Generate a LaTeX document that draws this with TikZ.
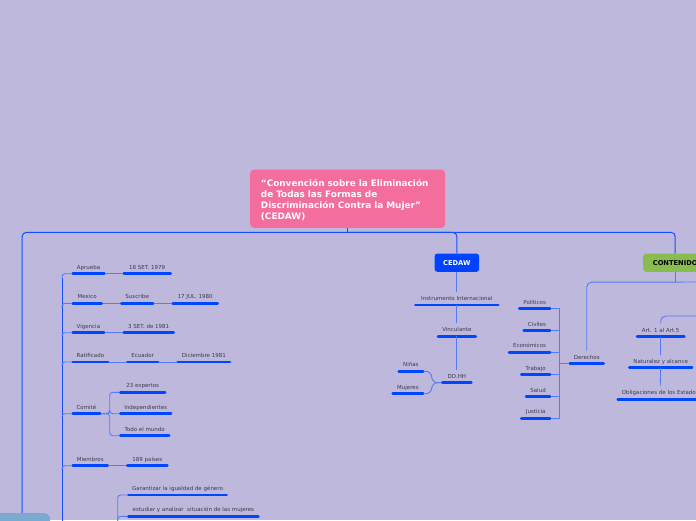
\documentclass[tikz,border=0pt]{standalone}
\usepackage{fontspec}
\setmainfont{DejaVu Sans}
\usetikzlibrary{calc}
\definecolor{bgc}{RGB}{190,185,220}
\definecolor{pinkc}{RGB}{243,109,157}
\definecolor{bluebox}{RGB}{0,66,255}
\definecolor{greenc}{RGB}{136,188,78}
\definecolor{lightbox}{RGB}{123,170,208}
\definecolor{ulc}{RGB}{0,70,255}
\definecolor{trunkc}{RGB}{20,78,255}
\definecolor{connc}{RGB}{84,124,248}
\definecolor{txtc}{RGB}{58,58,74}
\tikzset{
  itm/.style={inner xsep=0pt, inner ysep=4pt, text height=4.2pt, text depth=0.5pt,
    font=\fontsize{5.5}{6.5}\selectfont, text=txtc, align=center},
  uline/.style={draw=ulc, line width=2.6pt, line cap=round, shorten <=1pt, shorten >=1pt},
  trunk/.style={draw=trunkc, line width=1pt},
  conn/.style={draw=connc, line width=0.9pt},
  titlebox/.style={fill=pinkc, rounded corners=4pt, text=white, align=left,
    font=\fontsize{8.9}{11}\selectfont\bfseries, inner xsep=10.7pt, inner ysep=0pt,
    text width=173.6pt, minimum height=58.4pt, anchor=north west},
  hubbox/.style={rounded corners=3pt, minimum height=18.4pt, inner sep=0pt,
    font=\fontsize{6.7}{8}\selectfont\bfseries, anchor=north west}
}
\newcommand\mmitem[5]{%
  \node[itm, minimum width=#3-#2, anchor=south west] (#1) at (#2,#4) {#5};
  \draw[uline] (#1.south west) -- (#1.south east);}
\begin{document}
\begin{tikzpicture}[x=1pt,y=-1pt]
\fill[bgc] (0,0) rectangle (696,520);
\clip (0,0) rectangle (696,520);

% hubs
\node[titlebox] (title) at (250,169.3) {\rule{0pt}{10.5pt}“Convención sobre la Eliminación\\de Todas las Formas de\\Discriminación Contra la Mujer”\\(CEDAW)};
\node[hubbox, fill=bluebox, text=white, minimum width=44.7pt] (cedaw) at (434.3,253.3) {CEDAW};
\node[hubbox, fill=greenc, text=black, minimum width=64pt] (cont) at (643,253.3) {CONTENIDO};
\node[fill=lightbox, rounded corners=6pt, minimum width=56pt, minimum height=30pt, inner sep=0pt, anchor=north west] (bl) at (-6,513) {};

\coordinate (tj) at ($(title.south)+(0,4.3)$);
\draw[trunk] (title.south) -- (tj);
\draw[trunk, rounded corners=4pt] (tj) -| (bl.north);
\draw[trunk, rounded corners=4pt] (tj) -| (cedaw.north);
\draw[trunk, rounded corners=4pt] (tj) -| (cont.north);

% left branch
\mmitem{apr}{71.7}{105}{273.7}{Aprueba}
\mmitem{d79}{122.7}{171.3}{273.7}{18 SET. 1979}
\mmitem{mex}{71.7}{102.3}{303.3}{Mexico}
\mmitem{sus}{120.3}{153.7}{303.3}{Suscribe}
\mmitem{d80}{171.7}{218.3}{303.3}{17 JUL. 1980}
\mmitem{vig}{71.7}{104.7}{332.7}{Vigencia}
\mmitem{d81}{122.7}{174.3}{332.7}{3 SET. de 1981}
\mmitem{rat}{71.7}{108.7}{362}{Ratificado}
\mmitem{ecu}{126.3}{158.7}{362}{Ecuador}
\mmitem{dic}{176.7}{230.7}{362}{Diciembre 1981}
\mmitem{com}{71.7}{100.7}{413.7}{Comité}
\mmitem{exp}{119.3}{165.7}{392.3}{23 expertos}
\mmitem{ind}{119.3}{171.7}{413.7}{Independientes}
\mmitem{tod}{119.3}{169.7}{435.7}{Todo el mundo}
\mmitem{mie}{71.7}{108.3}{465.7}{Miembros}
\mmitem{pai}{126.3}{168}{465.7}{189 países}
\mmitem{gar}{127.3}{227.3}{495}{Garantizar la igualdad de género}
\mmitem{est}{127.3}{259}{516.3}{estudiar y analizar\ \ situación de las mujeres}

\coordinate (lroot) at (62,560);
\draw[trunk] (lroot) -- ($(lroot |- apr.south)+(0,4)$);
\foreach \c in {apr,mex,vig,rat,com,mie}{
  \draw[conn, rounded corners=3pt] ($(lroot |- \c.south)+(0,4)$) |- (\c.south west);}
\draw[conn] (apr.south east) -- (d79.south west);
\draw[conn] (mex.south east) -- (sus.south west);
\draw[conn] (sus.south east) -- (d80.south west);
\draw[conn] (vig.south east) -- (d81.south west);
\draw[conn] (rat.south east) -- (ecu.south west);
\draw[conn] (ecu.south east) -- (dic.south west);
\draw[conn] (mie.south east) -- (pai.south west);
\foreach \c in {exp,ind,tod}{
  \draw[conn, rounded corners=3pt] (com.south east) -- ++(8.6,0) |- (\c.south west);}
\coordinate (gp) at (117.7,560);
\foreach \c in {gar,est}{
  \draw[conn, rounded corners=3pt] (gp) |- (\c.south west);}

% CEDAW branch
\mmitem{ins}{414.3}{499}{305}{Instrumento Internacional}
\mmitem{vin}{437}{476.3}{336.3}{Vinculante}
\mmitem{ddh}{441.3}{472}{382.7}{DD.HH}
\mmitem{nin}{397.7}{423.7}{371.3}{Niñas}
\mmitem{muj}{391.7}{423.7}{393.7}{Mujeres}
\draw[conn] (cedaw.south) -- (ins.north);
\draw[conn] (ins.south) -- (vin.north);
\draw[conn] (vin.south) -- (ddh.north);
\foreach \c in {nin,muj}{
  \draw[conn, rounded corners=6pt] (ddh.south west) -- ++(-9.6,0) |- (\c.south east);}

% CONTENIDO branch
\mmitem{der}{568.7}{604.3}{363.7}{Derechos}
\mmitem{pol}{518.3}{550.7}{308.7}{Políticos}
\mmitem{civ}{522.7}{550.7}{330.7}{Civiles}
\mmitem{eco}{508}{550.7}{352.3}{Económicos}
\mmitem{tra}{520.3}{550.7}{374.7}{Trabajo}
\mmitem{sal}{525}{550.7}{396.7}{Salud}
\mmitem{jus}{520.3}{550.7}{418.3}{Justicia}
\coordinate (cj) at ($(cont.south)+(0,10)$);
\coordinate (offr) at (730,281.7);
\draw[conn] (cont.south) -- (cj);
\draw[conn, rounded corners=5pt] (cj) -| (der.north);
\draw[conn] (cj) -- (offr);
\foreach \c in {pol,civ,eco,tra,sal,jus}{
  \draw[conn] (der.south west) -- ++(-9.4,0) |- (\c.south east);}

\mmitem{art}{636}{685}{336.7}{Art. 1 al Art.5}
\mmitem{nat}{628.3}{692.7}{367.7}{Naturalez y alcance}
\mmitem{obl}{616.7}{703.3}{399.3}{Obligaciones de los Estados}
\coordinate (offa) at (730,316);
\draw[conn, rounded corners=5pt] (offa) -| (art.north);
\draw[conn] (art.south) -- (nat.north);
\draw[conn] (nat.south) -- (obl.north);
\end{tikzpicture}
\end{document}
